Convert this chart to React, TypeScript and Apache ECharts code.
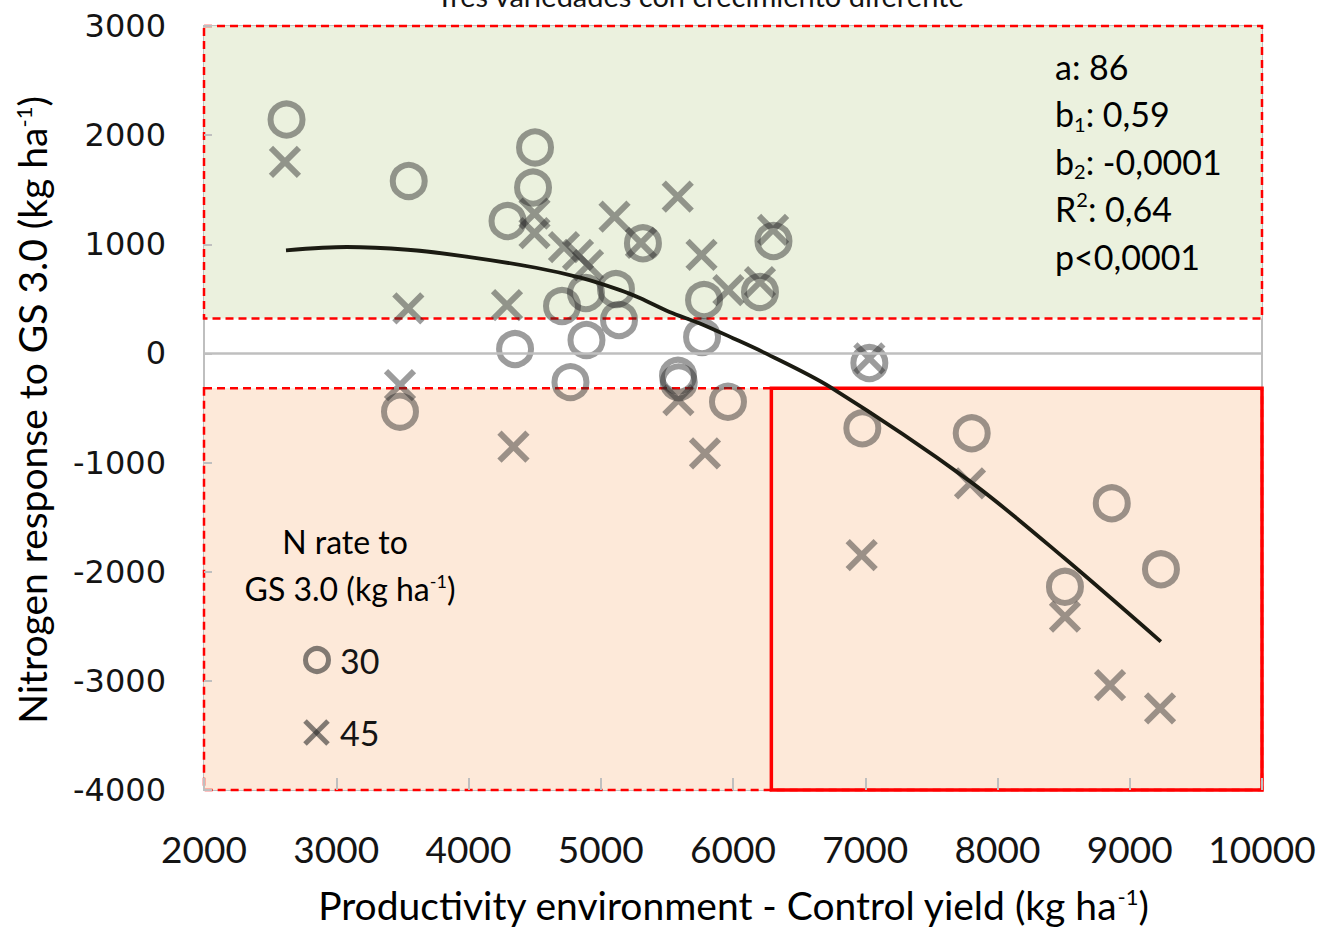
import React, { useEffect, useRef } from "react";
import * as echarts from "echarts";

// Axis extents
const X_MIN = 2000;
const X_MAX = 10000;
const X_STEP = 1000;
const Y_MIN = -4000;
const Y_MAX = 3000;
const Y_STEP = 1000;

// Response bands and the high-yield box
const BAND_HIGH = 320;
const BAND_LOW = -320;
const BOX_X_START = 6290;

// N rate 30 kg ha-1: [control yield, N response]
const rate30: [number, number][] = [
  [2624, 2143], [3548, 1580], [4503, 1887], [4488, 1520], [4295, 1213],
  [5319, 1009], [6306, 1030], [4707, 434], [4888, 553], [5115, 590],
  [5138, 306], [4892, 123], [4352, 40], [4771, -263], [5584, -205],
  [5590, -265], [5766, 150], [5781, 489], [6204, 563], [5962, -443],
  [3482, -534], [7031, -88], [6978, -686], [7805, -732], [8864, -1373],
  [9236, -1978], [8510, -2138],
];

// N rate 45 kg ha-1: [control yield, N response]
const rate45: [number, number][] = [
  [2612, 1756], [3545, 413], [3482, -290], [4291, 443], [4499, 1282],
  [4499, 1103], [4722, 975], [4828, 902], [4904, 810], [5104, 1253],
  [5582, 1436], [5304, 1012], [5762, 902], [6303, 1131], [5965, 581],
  [6204, 654], [5587, -427], [5788, -915], [4340, -855], [7031, -45],
  [6973, -1847], [7792, -1190], [8510, -2412], [8851, -3038], [9229, -3252],
];

// Quadratic fit drawn as a line
const fitCurve: [number, number][] = [
  [2620, 945], [3080, 975], [3540, 950], [3970, 890], [4510, 785],
  [4860, 690], [5146, 580], [5300, 505], [5520, 380], [5750, 275],
  [6000, 140], [6240, 5], [6730, -305], [7790, -1170], [8500, -1870],
  [9235, -2640],
];

// Regression statistics
const statLines: string[] = [
  "{base|a: 86}",
  "{base|b}{sub|1}{base|: 0,59}",
  "{base|b}{sub|2}{base|: -0,0001}",
  "{base|R}{sup|2}{base|: 0,64}",
  "{base|p<0,0001}",
];

const legendTitle = ["{base|N rate to}", "{base|GS 3.0 (kg ha}{sup|-1}{base|)}"];
const legendRates = ["30", "45"];

const MARK = "rgba(40,40,40,0.58)";
const CROSS = "path://M0,0L10,10M10,0L0,10";
const SANS = "Lato, 'Noto Sans', sans-serif";
const TXT = "#141414";

export default function App() {
  const ref = useRef<HTMLDivElement>(null);

  useEffect(() => {
    if (!ref.current) return;
    const chart = echarts.init(ref.current, undefined, { renderer: "svg" });

    const titleRich = {
      base: { fontFamily: SANS, fontSize: 39, color: TXT },
      sup: { fontFamily: SANS, fontSize: 22, color: TXT, verticalAlign: "top", lineHeight: 24 },
    };
    const statRich = {
      base: { fontFamily: SANS, fontSize: 34, color: TXT, lineHeight: 40 },
      sup: { fontFamily: SANS, fontSize: 20, color: TXT, verticalAlign: "top", lineHeight: 22 },
      sub: { fontFamily: SANS, fontSize: 20, color: TXT, verticalAlign: "bottom", lineHeight: 8 },
    };
    const legendRich = {
      base: { fontFamily: SANS, fontSize: 32, color: TXT },
      sup: { fontFamily: SANS, fontSize: 18, color: TXT, verticalAlign: "top", lineHeight: 20 },
    };
    const plain = (v: number) => String(v);

    const option: any = {
      animation: false,
      backgroundColor: "#ffffff",
      grid: {
        left: 204,
        top: 26,
        width: 1058,
        height: 764,
        show: true,
        borderColor: "#BFBFBF",
        borderWidth: 2,
        backgroundColor: "transparent",
      },
      xAxis: {
        type: "value",
        min: X_MIN,
        max: X_MAX,
        interval: X_STEP,
        z: 10,
        axisLine: { show: false, onZero: false },
        axisTick: { show: true, inside: true, length: 12, lineStyle: { color: "#BFBFBF", width: 2 } },
        splitLine: { show: false },
        axisLabel: { fontFamily: SANS, fontSize: 37, color: TXT, margin: 40, formatter: plain },
      },
      yAxis: {
        type: "value",
        min: Y_MIN,
        max: Y_MAX,
        interval: Y_STEP,
        z: 10,
        axisLine: { show: false, onZero: false },
        axisTick: { show: true, inside: true, length: 8, lineStyle: { color: "#BFBFBF", width: 2 } },
        splitLine: { show: false },
        axisLabel: { fontFamily: "'DejaVu Sans', sans-serif", fontSize: 32, color: TXT, margin: 38, formatter: plain },
      },
      series: [
        {
          name: "bands",
          type: "scatter",
          data: [],
          z: 1,
          silent: true,
          markArea: {
            silent: true,
            label: { show: false },
            data: [
              [
                { xAxis: X_MIN, yAxis: Y_MAX, itemStyle: { color: "#EBF1DE" } },
                { xAxis: X_MAX, yAxis: BAND_HIGH },
              ],
              [
                { xAxis: X_MIN, yAxis: BAND_LOW, itemStyle: { color: "#FDE9D9" } },
                { xAxis: X_MAX, yAxis: Y_MIN },
              ],
            ],
          },
        },
        {
          name: "zero",
          type: "line",
          data: [],
          z: 2,
          silent: true,
          markLine: {
            silent: true,
            symbol: "none",
            label: { show: false },
            lineStyle: { color: "#BFBFBF", width: 2.5, type: "solid" },
            data: [{ yAxis: 0 }],
          },
        },
        {
          name: "30",
          type: "scatter",
          data: rate30,
          z: 3,
          symbol: "circle",
          symbolSize: 32,
          itemStyle: { color: "transparent", borderColor: MARK, borderWidth: 6 },
        },
        {
          name: "45",
          type: "scatter",
          data: rate45,
          z: 3,
          symbol: CROSS,
          symbolSize: 28,
          itemStyle: { color: "transparent", borderColor: MARK, borderWidth: 6 },
        },
        {
          name: "frames",
          type: "scatter",
          data: [],
          z: 4,
          silent: true,
          markArea: {
            silent: true,
            label: { show: false },
            itemStyle: { color: "transparent", borderColor: "#FF0000", borderWidth: 2.5, borderType: [8, 5] },
            data: [
              [{ xAxis: X_MIN, yAxis: Y_MAX }, { xAxis: X_MAX, yAxis: BAND_HIGH }],
              [{ xAxis: X_MIN, yAxis: BAND_LOW }, { xAxis: X_MAX, yAxis: Y_MIN }],
            ],
          },
        },
        {
          name: "box",
          type: "scatter",
          data: [],
          z: 5,
          silent: true,
          markArea: {
            silent: true,
            label: { show: false },
            itemStyle: { color: "transparent", borderColor: "#FF0000", borderWidth: 3.5, borderType: "solid" },
            data: [[{ xAxis: BOX_X_START, yAxis: BAND_LOW }, { xAxis: X_MAX, yAxis: Y_MIN }]],
          },
        },
        {
          name: "fit",
          type: "line",
          data: fitCurve,
          z: 6,
          smooth: 0.3,
          symbol: "none",
          lineStyle: { color: "#1b1b12", width: 3.8 },
        },
      ],
      graphic: [
        {
          type: "text",
          z: 100,
          x: 700,
          y: 10,
          style: {
            text: "Tres variedades con crecimiento diferente",
            fontFamily: SANS,
            fontSize: 29,
            fill: TXT,
            align: "center",
            verticalAlign: "bottom",
          },
        },
        {
          type: "text",
          z: 100,
          x: 733,
          y: 905,
          style: {
            text: "{base|Productivity environment - Control yield (kg ha}{sup|-1}{base|)}",
            rich: titleRich,
            align: "center",
            verticalAlign: "middle",
          },
        },
        {
          type: "text",
          z: 100,
          x: 32,
          y: 410,
          rotation: Math.PI / 2,
          style: {
            text: "{base|Nitrogen response to GS 3.0 (kg ha}{sup|-1}{base|)}",
            rich: titleRich,
            align: "center",
            verticalAlign: "middle",
          },
        },
        ...statLines.map((t, i) => ({
          type: "text",
          z: 100,
          x: 1055,
          y: 66 + i * 47.5,
          style: { text: t, rich: statRich, align: "left", verticalAlign: "middle" },
        })),
        {
          type: "text",
          z: 100,
          x: 345,
          y: 541,
          style: { text: legendTitle[0], rich: legendRich, align: "center", verticalAlign: "middle" },
        },
        {
          type: "text",
          z: 100,
          x: 350,
          y: 588,
          style: { text: legendTitle[1], rich: legendRich, align: "center", verticalAlign: "middle" },
        },
        {
          type: "circle",
          z: 100,
          shape: { cx: 317, cy: 660, r: 11.5 },
          style: { fill: "transparent", stroke: MARK, lineWidth: 5 },
        },
        {
          type: "text",
          z: 100,
          x: 340,
          y: 660,
          style: { text: legendRates[0], fontFamily: SANS, fontSize: 34, fill: TXT, align: "left", verticalAlign: "middle" },
        },
        {
          type: "line",
          z: 100,
          shape: { x1: 305, y1: 721, x2: 328, y2: 744 },
          style: { stroke: MARK, lineWidth: 5 },
        },
        {
          type: "line",
          z: 100,
          shape: { x1: 328, y1: 721, x2: 305, y2: 744 },
          style: { stroke: MARK, lineWidth: 5 },
        },
        {
          type: "text",
          z: 100,
          x: 340,
          y: 732,
          style: { text: legendRates[1], fontFamily: SANS, fontSize: 34, fill: TXT, align: "left", verticalAlign: "middle" },
        },
      ],
    };

    chart.setOption(option);
    return () => chart.dispose();
  }, []);

  return (
    <div
      ref={ref}
      style={{ position: "absolute", left: 0, top: 0, width: 1322, height: 929 }}
    />
  );
}
